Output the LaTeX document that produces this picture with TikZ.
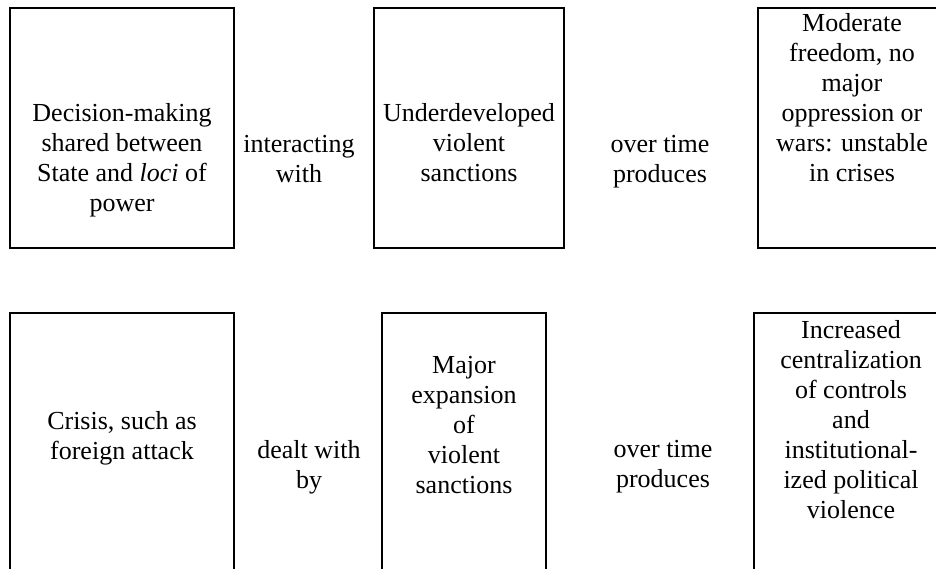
\documentclass[tikz,border=0pt]{standalone}
\usepackage{fontspec}
\setmainfont{Liberation Serif}
\usetikzlibrary{positioning}

\tikzset{
  panel/.style={draw, line width=1pt, inner sep=0pt, outer sep=0pt},
  words/.style={align=center, inner sep=0pt,
    font=\fontsize{13}{15}\selectfont,
    execute at begin node={\rule{0pt}{11pt}}},
}

\begin{document}
\begin{tikzpicture}[x=0.5pt, y=-0.5pt]
  \useasboundingbox (0,0) rectangle (936,568);
  \clip (0,0) rectangle (936,568);

  % top row
  \node[panel, minimum width=112pt, minimum height=120pt] (state) at (122,127.5) {};
  \node[panel, minimum width=95pt, minimum height=120pt] (weak) at (469,127.5) {};
  \node[panel, minimum width=94pt, minimum height=120pt] (freedom) at (852,127.5) {};

  \node[words, below=47.75pt of state.north] (statetext)
    {Decision-making\\shared between\\State and \textit{loci} of\\power};
  \node[words, below=47.75pt of weak.north] (weaktext)
    {Underdeveloped\\violent\\sanctions};
  \node[words, below=2.75pt of freedom.north] (freedomtext)
    {Moderate\\freedom, no\\major\\oppression or\\wars: unstable\\in crises};

  \node[words, anchor=north] (interact) at (299,135) {interacting\\with};
  \node[words, anchor=north] (produces1) at (660,135) {over time\\produces};

  % bottom row
  \node[panel, minimum width=112pt, minimum height=138.5pt] (crisis) at (122,451.5) {};
  \node[panel, minimum width=82pt, minimum height=138.5pt] (expansion) at (464,451.5) {};
  \node[panel, minimum width=97pt, minimum height=138.5pt] (central) at (851,451.5) {};

  \node[words, below=49pt of crisis.north] (crisistext)
    {Crisis, such as\\foreign attack};
  \node[words, below=21.5pt of expansion.north] (expansiontext)
    {Major\\expansion\\of\\violent\\sanctions};
  \node[words, below=3.5pt of central.north] (centraltext)
    {Increased\\centralization\\of controls\\and\\institutional-\\ized political\\violence};

  \node[words, anchor=north] (dealt) at (309,440) {dealt with\\by};
  \node[words, anchor=north] (produces2) at (663,440) {over time\\produces};
\end{tikzpicture}
\end{document}
